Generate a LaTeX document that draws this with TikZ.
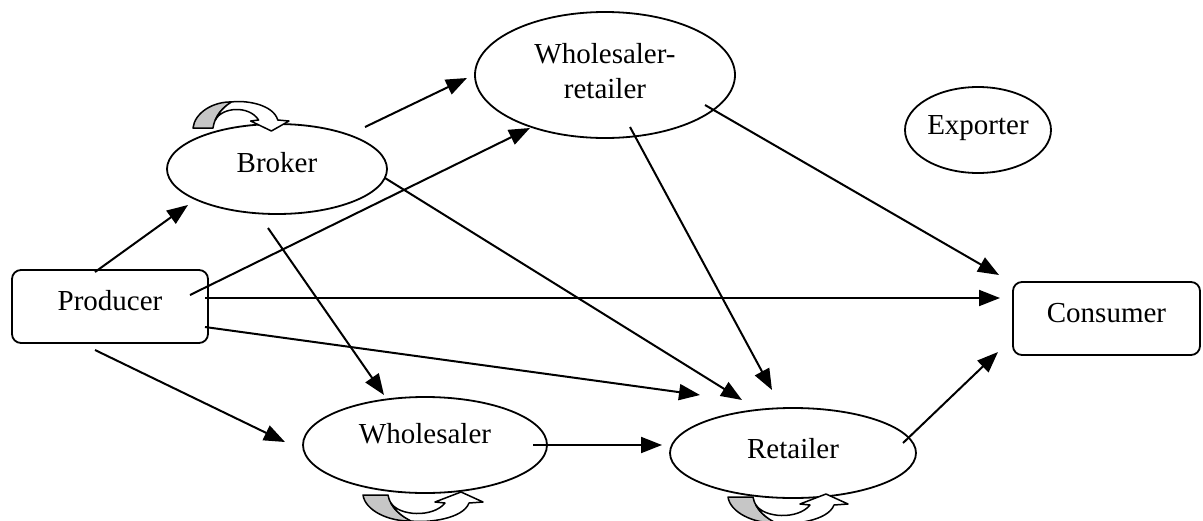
\documentclass[tikz,border=0pt]{standalone}
\usepackage{fontspec}
\setmainfont{Liberation Serif}
\usetikzlibrary{shapes.geometric,arrows.meta}
\tikzset{
 ell/.style={draw, ellipse, line width=1.8pt, inner sep=0pt},
 box/.style={draw, rectangle, rounded corners=9pt, line width=1.8pt, inner sep=0pt},
 txt/.style={inner sep=0pt, align=center},
 conn/.style={line width=2pt, -{Triangle[length=21pt,width=16pt]}},
 loopgray/.style={fill=gray!45, draw, line width=1.5pt, line join=round},
 loopwhite/.style={fill=white, draw, line width=1.5pt, line join=round},
 curl/.pic={
  \path[loopgray] (0,0) -- (25,0) .. controls (27,12) and (38,22) .. (50,26) .. controls (25,27) and (2,15) .. (0,0) -- cycle;
  \path[loopwhite] (28,8) .. controls (36,21) and (70,23) .. (82,8) -- (72,7) -- (98,-3) -- (120,7) -- (106,8) .. controls (100,24) and (65,28) .. (48,26) .. controls (40,22) and (32,16) .. (28,8) -- cycle;
 },
}
\begin{document}
\begin{tikzpicture}[x=1pt,y=-1pt,font=\fontsize{29}{35}\selectfont]
\useasboundingbox (0,0) rectangle (1203,520);
\node[box, minimum width=196pt, minimum height=73pt,
      label={[txt,yshift=6pt]center:Producer}] (prod) at (110,306.5) {};
\node[box, minimum width=187pt, minimum height=73pt,
      label={[txt,yshift=5pt]center:Consumer}] (cons) at (1106.5,318.5) {};
\node[ell, minimum width=220pt, minimum height=90pt,
      label={[txt,yshift=6pt]center:Broker}] (broker) at (277,169) {};
\node[ell, minimum width=260pt, minimum height=126pt,
      label={[txt,yshift=4pt]center:{Wholesaler-\\retailer}}] (wr) at (605,75) {};
\node[ell, minimum width=146pt, minimum height=86pt,
      label={[txt,yshift=2pt]center:Exporter}] (exp) at (978,130) {};
\node[ell, minimum width=244pt, minimum height=96pt,
      label={[txt,yshift=11pt]center:Wholesaler}] (whs) at (425,445) {};
\node[ell, minimum width=246pt, minimum height=90pt,
      label={[txt,yshift=4pt]center:Retailer}] (ret) at (793,453) {};

\pic[xscale=0.8, yscale=-1] at (193,128) {curl};
\pic at (363,495) {curl};
\pic at (728,497) {curl};

\draw[conn] ([shift={(-15,-34.5)}]prod.center) -- ([shift={(-89,36)}]broker.center);
\draw[conn] ([shift={(80,-11.5)}]prod.center) -- ([shift={(-75,53)}]wr.center);
\draw[conn] ([shift={(95,-8.5)}]prod.center) -- ([shift={(-106.5,-20.5)}]cons.center);
\draw[conn] ([shift={(95,20.5)}]prod.center) -- ([shift={(-93,-58)}]ret.center);
\draw[conn] ([shift={(-15,43.5)}]prod.center) -- ([shift={(-140,-3)}]whs.center);
\draw[conn] ([shift={(88,-42)}]broker.center) -- ([shift={(-138,3)}]wr.center);
\draw[conn] ([shift={(108,9)}]broker.center) -- ([shift={(-51,-53)}]ret.center);
\draw[conn] ([shift={(-9,59)}]broker.center) -- ([shift={(-41,-50)}]whs.center);
\draw[conn] ([shift={(100,30)}]wr.center) -- ([shift={(-107.5,-43.5)}]cons.center);
\draw[conn] ([shift={(25,52)}]wr.center) -- ([shift={(-21,-63)}]ret.center);
\draw[conn] ([shift={(108,0)}]whs.center) -- ([shift={(-131,-8)}]ret.center);
\draw[conn] ([shift={(110,-10)}]ret.center) -- ([shift={(-108.5,33.5)}]cons.center);
\end{tikzpicture}
\end{document}
